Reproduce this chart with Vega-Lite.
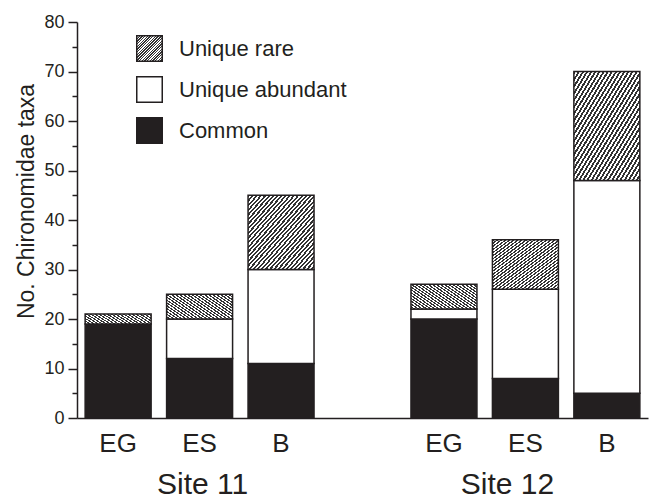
{
  "$schema": "https://vega.github.io/schema/vega-lite/v6.json",
  "width": 571,
  "height": 396,
  "autosize": {"type": "none"},
  "padding": {"left": 77, "top": 22, "right": 18, "bottom": 80},
  "background": "white",
  "config": {"view": {"stroke": null}, "font": "Liberation Sans", "axis": {"grid": false}},
  "data": {
    "values": [
      {"slot": "Site 11 EG", "type": "Common", "n": 19},
      {"slot": "Site 11 EG", "type": "Unique rare", "n": 2},
      {"slot": "Site 11 ES", "type": "Common", "n": 12},
      {"slot": "Site 11 ES", "type": "Unique abundant", "n": 8},
      {"slot": "Site 11 ES", "type": "Unique rare", "n": 5},
      {"slot": "Site 11 B", "type": "Common", "n": 11},
      {"slot": "Site 11 B", "type": "Unique abundant", "n": 19},
      {"slot": "Site 11 B", "type": "Unique rare", "n": 15},
      {"slot": "Site 12 EG", "type": "Common", "n": 20},
      {"slot": "Site 12 EG", "type": "Unique abundant", "n": 2},
      {"slot": "Site 12 EG", "type": "Unique rare", "n": 5},
      {"slot": "Site 12 ES", "type": "Common", "n": 8},
      {"slot": "Site 12 ES", "type": "Unique abundant", "n": 18},
      {"slot": "Site 12 ES", "type": "Unique rare", "n": 10},
      {"slot": "Site 12 B", "type": "Common", "n": 5},
      {"slot": "Site 12 B", "type": "Unique abundant", "n": 43},
      {"slot": "Site 12 B", "type": "Unique rare", "n": 22}
    ]
  },
  "layer": [
    {
      "mark": {"type": "bar", "stroke": "#231f20", "strokeWidth": 1.5},
      "encoding": {
        "x": {
          "field": "slot",
          "type": "nominal",
          "scale": {
            "domain": ["Site 11 EG", "Site 11 ES", "Site 11 B", "gap", "Site 12 EG", "Site 12 ES", "Site 12 B"],
            "paddingInner": 0.19,
            "paddingOuter": 0.1
          },
          "axis": {
            "title": null,
            "ticks": false,
            "labelAngle": 0,
            "labelExpr": "datum.value == 'gap' ? '' : split(datum.value, ' ')[2]",
            "labelFontSize": 26,
            "labelPadding": 12,
            "labelBaseline": "top",
            "labelColor": "#231f20",
            "domainColor": "#231f20",
            "domainWidth": 1.5
          }
        },
        "y": {
          "field": "n",
          "type": "quantitative",
          "stack": "zero",
          "scale": {"domain": [0, 80], "nice": false},
          "axis": {
            "title": "No. Chironomidae taxa",
            "titleFontSize": 23,
            "titleFontWeight": "normal",
            "titleColor": "#231f20",
            "titleX": -44,
            "titleY": 179,
            "titleBaseline": "alphabetic",
            "values": [0, 5, 10, 15, 20, 25, 30, 35, 40, 45, 50, 55, 60, 65, 70, 75, 80],
            "labelExpr": "datum.value % 10 === 0 ? datum.label : ''",
            "tickSize": {"condition": {"test": "datum.value % 10 === 0", "value": 9}, "value": 5},
            "tickColor": "#231f20",
            "tickWidth": 1.5,
            "domainColor": "#231f20",
            "domainWidth": 1.5,
            "labelFontSize": 18,
            "labelPadding": 4,
            "labelColor": "#231f20"
          }
        },
        "color": {
          "field": "type",
          "type": "nominal",
          "scale": {
            "domain": ["Unique rare", "Unique abundant", "Common"],
            "range": [
              {"expr": "{gradient: 'linear', x1: 0, y1: 0, x2: 1, y2: 1, stops: [{offset:0,color:'#333'},{offset:0.015625,color:'#333'},{offset:0.015625,color:'#fff'},{offset:0.03125,color:'#fff'},{offset:0.03125,color:'#333'},{offset:0.046875,color:'#333'},{offset:0.046875,color:'#fff'},{offset:0.0625,color:'#fff'},{offset:0.0625,color:'#333'},{offset:0.078125,color:'#333'},{offset:0.078125,color:'#fff'},{offset:0.09375,color:'#fff'},{offset:0.09375,color:'#333'},{offset:0.109375,color:'#333'},{offset:0.109375,color:'#fff'},{offset:0.125,color:'#fff'},{offset:0.125,color:'#333'},{offset:0.140625,color:'#333'},{offset:0.140625,color:'#fff'},{offset:0.15625,color:'#fff'},{offset:0.15625,color:'#333'},{offset:0.171875,color:'#333'},{offset:0.171875,color:'#fff'},{offset:0.1875,color:'#fff'},{offset:0.1875,color:'#333'},{offset:0.203125,color:'#333'},{offset:0.203125,color:'#fff'},{offset:0.21875,color:'#fff'},{offset:0.21875,color:'#333'},{offset:0.234375,color:'#333'},{offset:0.234375,color:'#fff'},{offset:0.25,color:'#fff'},{offset:0.25,color:'#333'},{offset:0.265625,color:'#333'},{offset:0.265625,color:'#fff'},{offset:0.28125,color:'#fff'},{offset:0.28125,color:'#333'},{offset:0.296875,color:'#333'},{offset:0.296875,color:'#fff'},{offset:0.3125,color:'#fff'},{offset:0.3125,color:'#333'},{offset:0.328125,color:'#333'},{offset:0.328125,color:'#fff'},{offset:0.34375,color:'#fff'},{offset:0.34375,color:'#333'},{offset:0.359375,color:'#333'},{offset:0.359375,color:'#fff'},{offset:0.375,color:'#fff'},{offset:0.375,color:'#333'},{offset:0.390625,color:'#333'},{offset:0.390625,color:'#fff'},{offset:0.40625,color:'#fff'},{offset:0.40625,color:'#333'},{offset:0.421875,color:'#333'},{offset:0.421875,color:'#fff'},{offset:0.4375,color:'#fff'},{offset:0.4375,color:'#333'},{offset:0.453125,color:'#333'},{offset:0.453125,color:'#fff'},{offset:0.46875,color:'#fff'},{offset:0.46875,color:'#333'},{offset:0.484375,color:'#333'},{offset:0.484375,color:'#fff'},{offset:0.5,color:'#fff'},{offset:0.5,color:'#333'},{offset:0.515625,color:'#333'},{offset:0.515625,color:'#fff'},{offset:0.53125,color:'#fff'},{offset:0.53125,color:'#333'},{offset:0.546875,color:'#333'},{offset:0.546875,color:'#fff'},{offset:0.5625,color:'#fff'},{offset:0.5625,color:'#333'},{offset:0.578125,color:'#333'},{offset:0.578125,color:'#fff'},{offset:0.59375,color:'#fff'},{offset:0.59375,color:'#333'},{offset:0.609375,color:'#333'},{offset:0.609375,color:'#fff'},{offset:0.625,color:'#fff'},{offset:0.625,color:'#333'},{offset:0.640625,color:'#333'},{offset:0.640625,color:'#fff'},{offset:0.65625,color:'#fff'},{offset:0.65625,color:'#333'},{offset:0.671875,color:'#333'},{offset:0.671875,color:'#fff'},{offset:0.6875,color:'#fff'},{offset:0.6875,color:'#333'},{offset:0.703125,color:'#333'},{offset:0.703125,color:'#fff'},{offset:0.71875,color:'#fff'},{offset:0.71875,color:'#333'},{offset:0.734375,color:'#333'},{offset:0.734375,color:'#fff'},{offset:0.75,color:'#fff'},{offset:0.75,color:'#333'},{offset:0.765625,color:'#333'},{offset:0.765625,color:'#fff'},{offset:0.78125,color:'#fff'},{offset:0.78125,color:'#333'},{offset:0.796875,color:'#333'},{offset:0.796875,color:'#fff'},{offset:0.8125,color:'#fff'},{offset:0.8125,color:'#333'},{offset:0.828125,color:'#333'},{offset:0.828125,color:'#fff'},{offset:0.84375,color:'#fff'},{offset:0.84375,color:'#333'},{offset:0.859375,color:'#333'},{offset:0.859375,color:'#fff'},{offset:0.875,color:'#fff'},{offset:0.875,color:'#333'},{offset:0.890625,color:'#333'},{offset:0.890625,color:'#fff'},{offset:0.90625,color:'#fff'},{offset:0.90625,color:'#333'},{offset:0.921875,color:'#333'},{offset:0.921875,color:'#fff'},{offset:0.9375,color:'#fff'},{offset:0.9375,color:'#333'},{offset:0.953125,color:'#333'},{offset:0.953125,color:'#fff'},{offset:0.96875,color:'#fff'},{offset:0.96875,color:'#333'},{offset:0.984375,color:'#333'},{offset:0.984375,color:'#fff'},{offset:1,color:'#fff'}]}"},
              "#ffffff",
              "#231f20"
            ]
          },
          "legend": {
            "title": null,
            "orient": "none",
            "legendX": 59,
            "legendY": 13,
            "padding": 0,
            "symbolType": "square",
            "symbolSize": 650,
            "symbolStrokeColor": "#231f20",
            "symbolStrokeWidth": 1.5,
            "symbolOpacity": 1,
            "labelFontSize": 22,
            "labelColor": "#231f20",
            "labelOffset": 16,
            "rowPadding": 8,
            "labelLimit": 0
          }
        },
        "order": {"field": "type", "sort": "ascending"}
      }
    },
    {
      "mark": {"type": "rule", "strokeOpacity": 0},
      "encoding": {
        "x": {
          "field": "slot",
          "type": "nominal",
          "axis": {
            "orient": "bottom",
            "title": null,
            "ticks": false,
            "domain": false,
            "labelAngle": 0,
            "labelExpr": "datum.value == 'Site 11 ES' ? 'Site 11' : datum.value == 'Site 12 ES' ? 'Site 12' : ''",
            "labelFontSize": 30,
            "labelPadding": 51,
            "labelBaseline": "top",
            "labelColor": "#231f20",
            "labelOffset": {"condition": {"test": "datum.value == 'Site 12 ES'", "value": -18}, "value": 3}
          }
        }
      }
    }
  ],
  "resolve": {"axis": {"x": "independent"}}
}
